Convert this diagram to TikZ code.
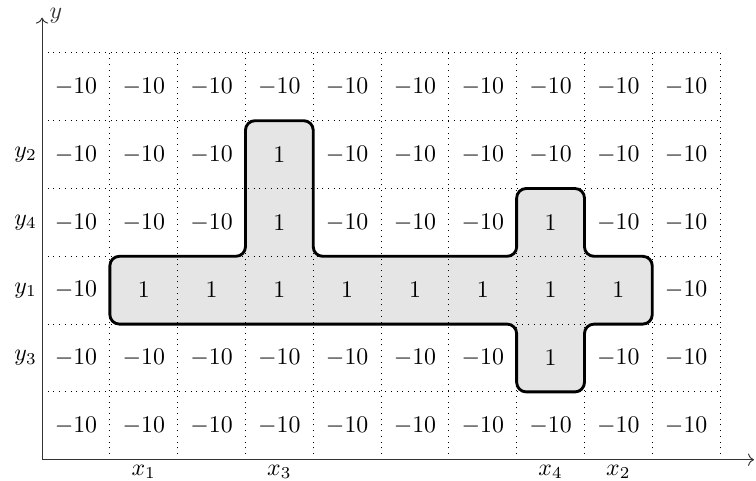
\documentclass[tikz,border=0pt]{standalone}
\usepackage{amsmath}
\usetikzlibrary{arrows.meta}

\begin{document}
\begin{tikzpicture}[>=To,
  region/.style={draw,very thick,fill=black!10,rounded corners=4pt},
  cell/.style={inner sep=1pt},
  axislabel/.style={inner sep=2pt}]
\useasboundingbox (-0.62,-0.31) rectangle (10.53,6.78);
% shaded region
\filldraw[region] (1,2) -- (1,3) -- (3,3) -- (3,5) -- (4,5) -- (4,3) -- (7,3) -- (7,4) -- (8,4) -- (8,3) -- (9,3) -- (9,2) -- (8,2) -- (8,1) -- (7,1) -- (7,2) -- cycle;
\draw[dotted] (0,0) grid (10,6);
% axes
\coordinate (o) at (0,0);
\coordinate (xend) at (10.5,0);
\coordinate (yend) at (0,6.52);
\draw[->,black!80] (o) -- (xend) node[right,axislabel] (xl) {$x$};
\draw[->,black!80] (o) -- (yend) node[right,axislabel,xshift=1pt,yshift=1pt] (yl) {$y$};
% cell values, one row per line (bottom to top)
\foreach \r/\vals in {0/{-10,-10,-10,-10,-10,-10,-10,-10,-10,-10},
                      1/{-10,-10,-10,-10,-10,-10,-10,1,-10,-10},
                      2/{-10,1,1,1,1,1,1,1,1,-10},
                      3/{-10,-10,-10,1,-10,-10,-10,1,-10,-10},
                      4/{-10,-10,-10,1,-10,-10,-10,-10,-10,-10},
                      5/{-10,-10,-10,-10,-10,-10,-10,-10,-10,-10}}
  \foreach \v [count=\c from 0] in \vals
    \node[cell] (v\c\r) at (\c+0.5,\r+0.5) {$\v$};
% axis ticks
\node[below,axislabel] (x1) at (1.5,0) {$x_1$};
\node[below,axislabel] (x3) at (3.5,0) {$x_3$};
\node[below,axislabel] (x4) at (7.5,0) {$x_4$};
\node[below,axislabel] (x2) at (8.5,0) {$x_2$};
\node[left,axislabel] (y2) at (0,4.5) {$y_2$};
\node[left,axislabel] (y4) at (0,3.5) {$y_4$};
\node[left,axislabel] (y1) at (0,2.5) {$y_1$};
\node[left,axislabel] (y3) at (0,1.5) {$y_3$};
\end{tikzpicture}
\end{document}
